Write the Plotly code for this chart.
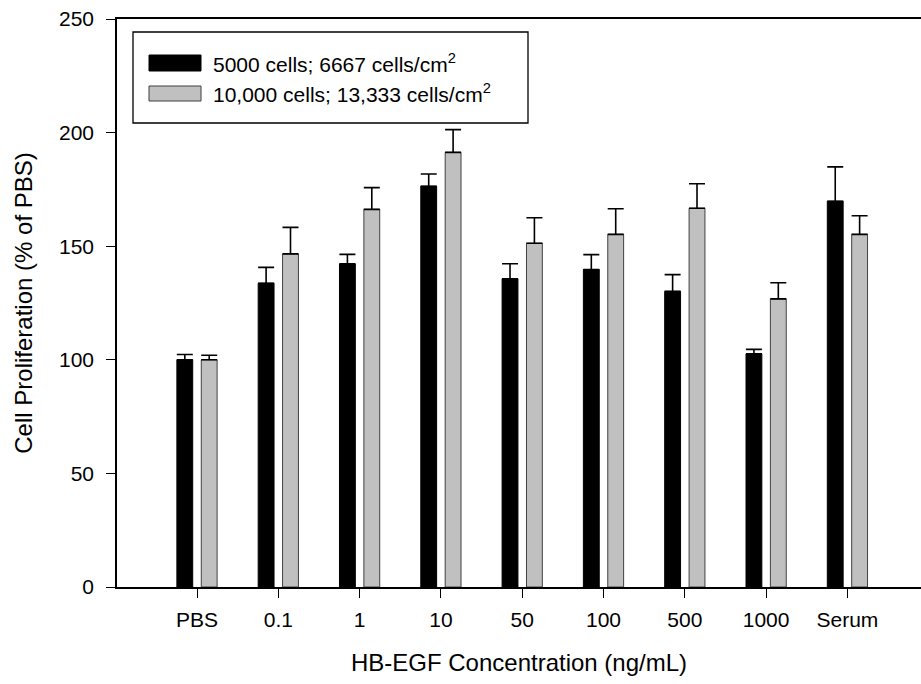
import plotly.graph_objects as go

categories = ["PBS", "0.1", "1", "10", "50", "100", "500", "1000", "Serum"]
series_names = ["5000 cells; 6667 cells/cm<sup>2</sup>", "10,000 cells; 13,333 cells/cm<sup>2</sup>"]
low_density = [100, 133.7, 142.2, 176.4, 135.7, 139.7, 130.1, 102.6, 169.8]
low_density_err = [2.3, 7.0, 4.2, 5.4, 6.6, 6.6, 7.4, 2.0, 15.1]
high_density = [100, 146.6, 166.2, 191.3, 151.3, 155.2, 166.7, 126.8, 155.2]
high_density_err = [2.0, 11.7, 9.6, 10.0, 11.2, 11.3, 10.8, 7.1, 8.2]
y_ticks = [0, 50, 100, 150, 200, 250]

FONT = "Liberation Sans, Arial, sans-serif"
colors = ["#000000", "#c0c0c0"]
outlines = ["#000000", "#404040"]

fig = go.Figure()
for name, vals, errs, c, oc in [
    (series_names[0], low_density, low_density_err, colors[0], outlines[0]),
    (series_names[1], high_density, high_density_err, colors[1], outlines[1]),
]:
    fig.add_trace(go.Bar(
        x=categories, y=vals, name=name,
        marker=dict(color=c, line=dict(color=oc, width=1)),
        error_y=dict(type="data", array=errs, arrayminus=[0] * len(errs),
                     symmetric=False, color="#000000", thickness=1.6, width=8),
        showlegend=False,
    ))

fig.update_layout(
    width=921, height=684,
    margin=dict(l=117, r=0, t=19, b=97, autoexpand=False),
    paper_bgcolor="white", plot_bgcolor="white",
    barmode="group", bargap=0.4, bargroupgap=0.35,
    font=dict(family=FONT, color="#000000", size=21),
    xaxis=dict(
        type="category", range=[-0.984, 8.905], automargin=False,
        showline=True, linecolor="#000000", linewidth=1.5, mirror=True,
        ticks="outside", ticklen=9, tickwidth=1.3, tickcolor="#000000",
        tickfont=dict(size=21, family=FONT), ticklabelstandoff=4,
        ticklabeloverflow="allow",
        showgrid=False, zeroline=False,
        title=dict(text="HB-EGF Concentration (ng/mL)", font=dict(size=24, family=FONT), standoff=24),
    ),
    yaxis=dict(
        range=[0, 250], tickvals=y_ticks, automargin=False,
        showline=True, linecolor="#000000", linewidth=1.5,
        ticks="outside", ticklen=9, tickwidth=1.3, tickcolor="#000000",
        tickfont=dict(size=21, family=FONT), ticklabelstandoff=8,
        ticklabeloverflow="allow",
        showgrid=False, zeroline=False,
        title=dict(text="Cell Proliferation (% of PBS)", font=dict(size=24, family=FONT), standoff=20),
    ),
)

# legend box (drawn manually to match the large swatches); coords relative to plot area
def px_x(px):
    return (px - 117) / 804.0

def px_y(py):
    return (587 - py) / 568.0

fig.add_shape(type="rect", xref="paper", yref="paper",
              x0=px_x(133), x1=px_x(528), y0=px_y(123), y1=px_y(32),
              line=dict(color="#000000", width=1.3), fillcolor="white")
rows = [(55, 71), (86, 101)]
for i, (t, b) in enumerate(rows):
    fig.add_shape(type="rect", xref="paper", yref="paper",
                  x0=px_x(149), x1=px_x(201), y0=px_y(b), y1=px_y(t),
                  line=dict(color=outlines[i], width=1), fillcolor=colors[i])
    fig.add_annotation(xref="paper", yref="paper", x=px_x(211), y=px_y((t + b) / 2),
                       text=series_names[i], showarrow=False, xanchor="left", yanchor="middle",
                       font=dict(size=21, family=FONT, color="#000000"))

fig.write_html("out.html", config={"displayModeBar": False},
               post_script="document.body.style.margin='0';document.body.style.overflow='hidden';")
